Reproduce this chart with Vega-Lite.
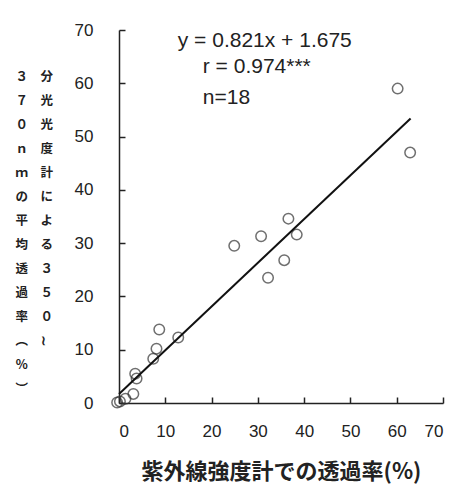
{
  "$schema": "https://vega.github.io/schema/vega-lite/v6.json",
  "width": 324,
  "height": 373,
  "autosize": {"type": "none"},
  "padding": {"left": 119, "top": 30, "right": 14, "bottom": 81},
  "background": "white",
  "config": {
    "view": {"stroke": null},
    "axis": {
      "grid": false,
      "domainColor": "#222",
      "domainWidth": 1.5,
      "tickColor": "#222",
      "tickWidth": 1.5,
      "tickSize": -6,
      "labelFont": "Liberation Sans Narrow, Arial Narrow, Liberation Sans",
      "labelFontSize": 17,
      "labelColor": "#222",
      "titleColor": "#222"
    }
  },
  "layer": [
    {
      "data": {
        "values": [
          {"uv": 60.2, "spec": 59.0},
          {"uv": 62.9, "spec": 47.0},
          {"uv": 36.6, "spec": 34.6},
          {"uv": 38.4, "spec": 31.6},
          {"uv": 30.7, "spec": 31.3},
          {"uv": 24.9, "spec": 29.5},
          {"uv": 35.7, "spec": 26.8},
          {"uv": 32.2, "spec": 23.5},
          {"uv": 8.7, "spec": 13.8},
          {"uv": 12.8, "spec": 12.3},
          {"uv": 8.1, "spec": 10.2},
          {"uv": 7.4, "spec": 8.3},
          {"uv": 3.5, "spec": 5.5},
          {"uv": 3.8, "spec": 4.6},
          {"uv": 3.1, "spec": 1.7},
          {"uv": 1.4, "spec": 0.8},
          {"uv": 0.2, "spec": 0.3},
          {"uv": -0.4, "spec": 0.1}
        ]
      },
      "mark": {"type": "point", "shape": "circle", "filled": false, "stroke": "#333", "strokeWidth": 1.5, "size": 110, "clip": false},
      "encoding": {
        "x": {
          "field": "uv", "type": "quantitative",
          "scale": {"domain": [0, 70], "nice": false},
          "axis": {
            "values": [0, 10, 20, 30, 40, 50, 60, 70],
            "labelPadding": 26,
            "title": "紫外線強度計での透過率(%)",
            "titleFont": "Noto Sans CJK JP",
            "titleFontSize": 22,
            "titleFontWeight": "bold",
            "titleBaseline": "middle",
            "titleY": 68
          }
        },
        "y": {
          "field": "spec", "type": "quantitative",
          "scale": {"domain": [0, 70], "nice": false},
          "axis": {
            "values": [0, 10, 20, 30, 40, 50, 60, 70],
            "labelPadding": 32,
            "title": ["３　分", "７　光", "０　光", "ｎ　度", "ｍ　計", "の　に", "平　よ", "均　る", "透　３", "過　５", "率　０", "︵　≀", "％", "︶"],
            "titleFont": "Noto Sans CJK JP",
            "titleFontSize": 12.5,
            "titleFontWeight": "bold",
            "titleLineHeight": 24,
            "titleAngle": 0,
            "titleAlign": "left",
            "titleBaseline": "top",
            "titleX": -104,
            "titleY": 40
          }
        }
      }
    },
    {
      "data": {"values": [{"uv": 0, "spec": 1.675}, {"uv": 63, "spec": 53.4}]},
      "mark": {"type": "line", "color": "#111", "strokeWidth": 2},
      "encoding": {
        "x": {"field": "uv", "type": "quantitative"},
        "y": {"field": "spec", "type": "quantitative"}
      }
    },
    {
      "data": {
        "values": [
          {"uv": 12.7, "spec": 68.0, "label": "y = 0.821x + 1.675"},
          {"uv": 18.1, "spec": 63.0, "label": "r = 0.974***"},
          {"uv": 18.1, "spec": 57.3, "label": "n=18"}
        ]
      },
      "mark": {"type": "text", "align": "left", "baseline": "middle", "font": "Liberation Sans", "fontSize": 21, "color": "#222"},
      "encoding": {
        "x": {"field": "uv", "type": "quantitative"},
        "y": {"field": "spec", "type": "quantitative"},
        "text": {"field": "label"}
      }
    }
  ]
}
